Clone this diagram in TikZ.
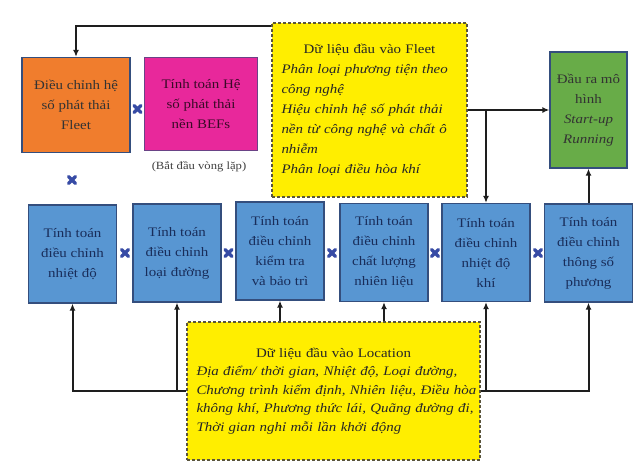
\documentclass[tikz,border=0pt]{standalone}
\usepackage{fontspec}
\setmainfont[FakeStretch=1.15]{Liberation Serif}
\usetikzlibrary{arrows.meta}
\definecolor{orangeF}{RGB}{240,125,45}
\definecolor{magF}{RGB}{232,40,155}
\definecolor{yelF}{RGB}{255,238,0}
\definecolor{greenF}{RGB}{104,172,72}
\definecolor{blueF}{RGB}{88,150,210}
\definecolor{blueD}{RGB}{52,78,125}
\definecolor{blueT}{RGB}{25,45,90}
\definecolor{markB}{RGB}{55,75,165}
\definecolor{lineC}{RGB}{30,30,30}
\definecolor{yelD}{RGB}{90,85,60}
\newcommand\xmk[1]{%
  \draw[markB, line width=3.4pt, line cap=round] ([shift={(-3.5,-3.5)}]#1) -- ([shift={(3.5,3.5)}]#1) ([shift={(-3.5,3.5)}]#1) -- ([shift={(3.5,-3.5)}]#1);}
\begin{document}
\begin{tikzpicture}[x=1pt,y=-1pt,
  box/.style={draw=blueD, line width=1.3pt, align=center, inner sep=0pt,
    font=\fontsize{13}{20}\selectfont},
  bluebox/.style={box, fill=blueF, text=blueT, minimum width=88pt, minimum height=98pt},
  ybox/.style={draw=yelD, fill=yelF, line width=1.4pt, dash pattern=on 3pt off 2pt,
    inner sep=0pt, text=black!85},
  conn/.style={draw=lineC, line width=2pt, -{Latex[length=7pt,width=6pt]}},
]
\useasboundingbox[fill=white] (0,0) rectangle (638,464);

% top row
\node[box, fill=orangeF, text=black!80, minimum width=108pt, minimum height=95pt] (orange) at (76,105)
  {Điều chỉnh hệ\\số phát thải\\Fleet};
\node[box, draw=blueD!70!magF, fill=magF, text=black!75!magF, minimum width=113pt, minimum height=93pt] (mag) at (201,104)
  {Tính toán Hệ\\số phát thải\\nền BEFs};
\node[font=\fontsize{11}{13}\selectfont, text=black!75] (start) at (199,167) {(Bắt đầu vòng lặp)};

\node[ybox, minimum width=195pt, minimum height=174pt, text width=176pt, align=left,
  font=\fontsize{13}{20}\selectfont] (fleet) at (369.5,110)
  {\hfil Dữ liệu đầu vào Fleet\hfil\\
   \itshape Phân loại phương tiện theo\\
   \itshape công nghệ\\
   \itshape Hiệu chỉnh hệ số phát thải\\
   \itshape nền từ công nghệ và chất ô\\
   \itshape nhiễm\\
   \itshape Phân loại điều hòa khí};

\node[box, fill=greenF, text=black!80, minimum width=77pt, minimum height=116pt] (green) at (588.5,110)
  {Đầu ra mô\\hình\\\itshape Start-up\\\itshape Running};

% blue row
\node[bluebox] (b1) at (72.5,254) {Tính toán\\điều chỉnh\\nhiệt độ};
\node[bluebox] (b2) at (177,253) {Tính toán\\điều chỉnh\\loại đường};
\node[bluebox] (b3) at (280,251) {Tính toán\\điều chỉnh\\kiểm tra\\và bảo trì};
\node[bluebox] (b4) at (384,252.5) {Tính toán\\điều chỉnh\\chất lượng\\nhiên liệu};
\node[bluebox] (b5) at (486,252.5) {Tính toán\\điều chỉnh\\nhiệt độ\\khí};
\node[bluebox] (b6) at (588.5,253) {Tính toán\\điều chỉnh\\thông số\\phương};

% location
\node[ybox, minimum width=293pt, minimum height=138pt, text width=274pt, align=left,
  font=\fontsize{13}{18.5}\selectfont] (loc) at (333.5,391)
  {\makebox[274pt][c]{Dữ liệu đầu vào Location}\\
   \itshape\makebox[274pt][s]{Địa điểm/ thời gian, Nhiệt độ, Loại đường,}\\
   \itshape\makebox[274pt][s]{Chương trình kiểm định, Nhiên liệu, Điều hòa}\\
   \itshape\makebox[274pt][s]{không khí, Phương thức lái, Quãng đường đi,}\\
   \itshape Thời gian nghỉ mỗi lần khởi động};

% connectors
\draw[conn] ([yshift=-4pt]fleet.north west) -| (orange.north);
\draw[conn] (fleet.east |- green.west) -- (green.west);
\draw[conn] (b5.north |- green.west) -- (b5.north);
\draw[conn] (b6.north) -- (green.south);
\draw[conn] (loc.west) -| (b1.south);
\draw[conn] (b2.south |- loc.west) -- (b2.south);
\draw[conn] (b3.south |- loc.north) -- (b3.south);
\draw[conn] (b4.south |- loc.north) -- (b4.south);
\draw[conn] (loc.east) -| (b6.south);
\draw[conn] (b5.south |- loc.east) -- (b5.south);

% link marks
\coordinate (m0) at (137.5,109);
\coordinate (m1) at (72,180);
\coordinate (m2) at (125,253);
\coordinate (m3) at (228.5,253);
\coordinate (m4) at (332,253);
\coordinate (m5) at (435,253);
\coordinate (m6) at (538,253);
\foreach \m in {m0,m1,m2,m3,m4,m5,m6} {\xmk{\m}}
\end{tikzpicture}
\end{document}
